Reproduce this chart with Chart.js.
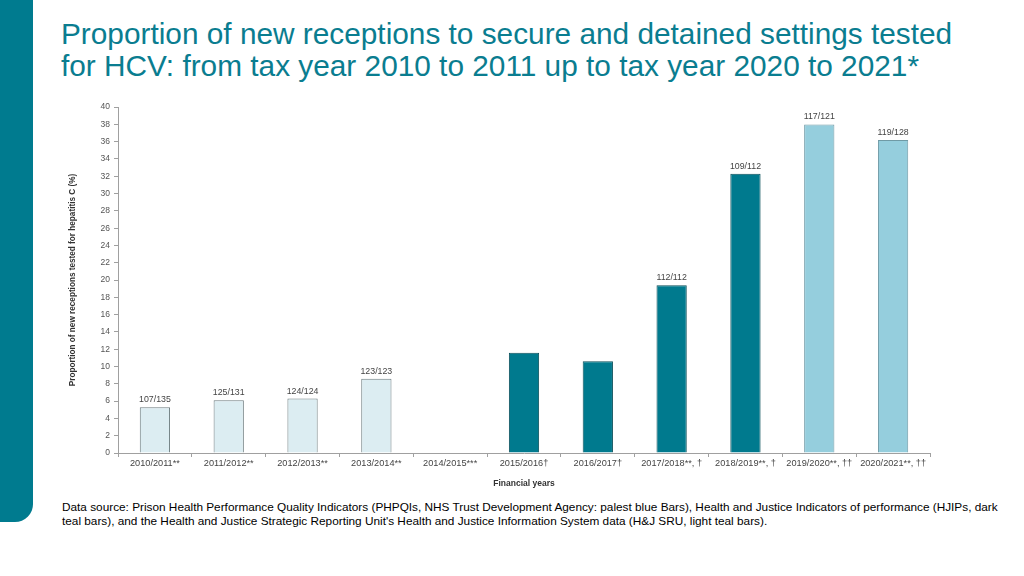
<!DOCTYPE html>
<html>
<head>
<meta charset="utf-8">
<script src="https://cdn.jsdelivr.net/npm/chart.js@4/dist/chart.umd.min.js"></script>
<style>
    html, body {
        margin: 0;
        padding: 0;
        width: 1024px;
        height: 576px;
        background: #ffffff;
        overflow: hidden;
        font-family: "Liberation Sans", Arial, sans-serif;
    }
    .side-band {
        position: absolute;
        left: 0;
        top: 0;
        width: 33px;
        height: 522px;
        background: #007b8f;
        border-bottom-right-radius: 18px;
    }
    h1 {
        position: absolute;
        left: 61px;
        top: 18px;
        margin: 0;
        font-weight: normal;
        font-size: 29.8px;
        line-height: 32px;
        color: #0a7d90;
        white-space: nowrap;
    }
    .chart-box {
        position: absolute;
        left: 60px;
        top: 98px;
        width: 880px;
        height: 395px;
    }
    .note {
        position: absolute;
        left: 62px;
        top: 500px;
        width: 945px;
        margin: 0;
        font-size: 11.8px;
        line-height: 14px;
        color: #000000;
    }
</style>
</head>
<body>
<div class="side-band"></div>
<h1>Proportion of new receptions to secure and detained settings tested<br>for HCV: from tax year 2010 to 2011 up to tax year 2020 to 2021*</h1>
<div class="chart-box"><canvas id="hcvChart"></canvas></div>
<p class="note">Data source: Prison Health Performance Quality Indicators (PHPQIs, NHS Trust Development Agency: palest blue Bars), Health and Justice Indicators of performance (HJIPs, dark teal bars), and the Health and Justice Strategic Reporting Unit's Health and Justice Information System data (H&amp;J SRU, light teal bars).</p>

<script>
// Financial years on the x axis
const years = [
    '2010/2011**', '2011/2012**', '2012/2013**', '2013/2014**', '2014/2015***',
    '2015/2016\u2020', '2016/2017\u2020', '2017/2018**, \u2020', '2018/2019**, \u2020',
    '2019/2020**, \u2020\u2020', '2020/2021**, \u2020\u2020'
];

// Percentage tested, 2014/2015 has no data
const tested = [5.3, 6.1, 6.3, 8.6, null, 11.6, 10.6, 19.4, 32.3, 38.0, 36.2];

// Count labels printed above the bars
const counts = ['107/135', '125/131', '124/124', '123/123', '', '', '', '112/112', '109/112', '117/121', '119/128'];

// Data source of each bar: phpqi = palest blue, hjip = dark teal, hjsru = light teal
const sources = ['phpqi', 'phpqi', 'phpqi', 'phpqi', 'phpqi', 'hjip', 'hjip', 'hjip', 'hjip', 'hjsru', 'hjsru'];

// Y axis ticks
const yTicks = [0, 2, 4, 6, 8, 10, 12, 14, 16, 18, 20, 22, 24, 26, 28, 30, 32, 34, 36, 38, 40];

const fills = { phpqi: '#dcedf2', hjip: '#007a8e', hjsru: '#95cedd' };
const borders = { phpqi: '#6f7d80', hjip: '#0b4f5a', hjsru: '#6f9aa5' };

// Writes the count label above each bar
const countLabels = {
    id: 'countLabels',
    afterDatasetsDraw(chart) {
        const ctx = chart.ctx;
        const meta = chart.getDatasetMeta(0);
        ctx.save();
        ctx.font = '8.8px "Liberation Sans", Arial, sans-serif';
        ctx.fillStyle = '#444444';
        ctx.textAlign = 'center';
        ctx.textBaseline = 'bottom';
        meta.data.forEach((bar, i) => {
            if (!counts[i] || tested[i] === null) return;
            ctx.fillText(counts[i], bar.x, bar.y - 3);
        });
        ctx.restore();
    }
};

const axisColor = '#a0a0a0';
const fontFamily = '"Liberation Sans", Arial, sans-serif';

new Chart(document.getElementById('hcvChart'), {
    type: 'bar',
    data: {
        labels: years,
        datasets: [{
            data: tested,
            backgroundColor: sources.map(s => fills[s]),
            borderColor: sources.map(s => borders[s]),
            borderWidth: 1,
            barPercentage: 0.82,
            categoryPercentage: 0.5
        }]
    },
    options: {
        responsive: true,
        maintainAspectRatio: false,
        animation: false,
        layout: { padding: { top: 9, right: 10, left: 0, bottom: 0 } },
        plugins: {
            legend: { display: false },
            tooltip: { enabled: false }
        },
        scales: {
            x: {
                grid: {
                    display: true,
                    drawOnChartArea: false,
                    color: axisColor,
                    tickLength: 4
                },
                border: { color: axisColor },
                ticks: {
                    color: '#444444',
                    font: { family: fontFamily, size: 9.2 },
                    maxRotation: 0,
                    autoSkip: false,
                    padding: 1
                },
                title: {
                    display: true,
                    text: 'Financial years',
                    color: '#333333',
                    font: { family: fontFamily, size: 8.5, weight: 'bold' },
                    padding: { top: 10 }
                },
                afterFit(scale) { scale.height = 40; }
            },
            y: {
                min: 0,
                max: 40,
                afterBuildTicks(scale) {
                    scale.ticks = yTicks.map(v => ({ value: v }));
                },
                grid: {
                    display: true,
                    drawOnChartArea: false,
                    color: axisColor,
                    tickLength: 4
                },
                border: { color: axisColor },
                ticks: {
                    color: '#555555',
                    font: { family: fontFamily, size: 8.5 },
                    padding: 4
                },
                title: {
                    display: true,
                    text: 'Proportion of new receptions tested for hepatitis C (%)',
                    color: '#333333',
                    font: { family: fontFamily, size: 8.2, weight: 'bold' },
                    padding: { top: 8, bottom: 14 }
                },
                afterFit(scale) { scale.width = 58; }
            }
        }
    },
    plugins: [countLabels]
});
</script>
</body>
</html>
